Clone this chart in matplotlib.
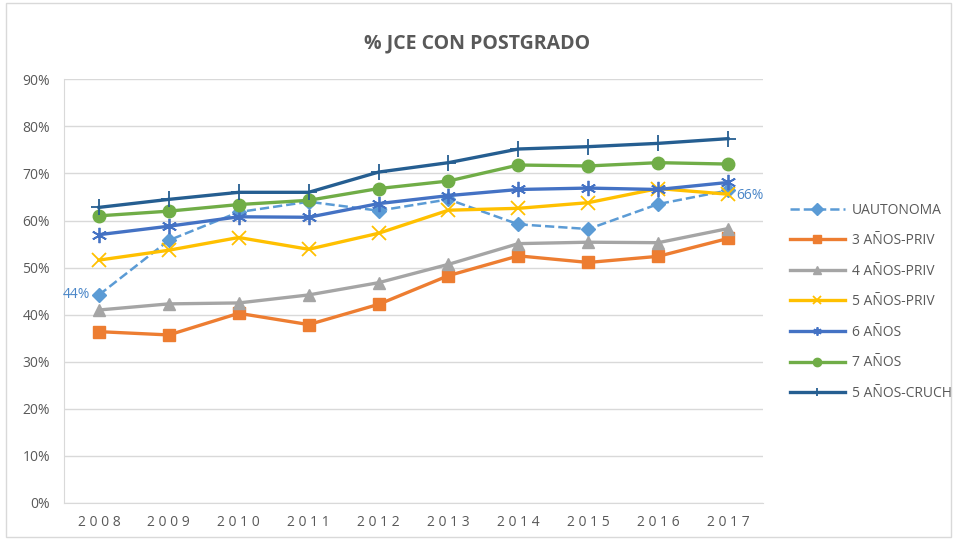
import matplotlib
matplotlib.use("Agg")
import matplotlib.pyplot as plt
from matplotlib.patches import Rectangle
from matplotlib.ticker import FuncFormatter, MultipleLocator

years = [2008, 2009, 2010, 2011, 2012, 2013, 2014, 2015, 2016, 2017]
uautonoma = [44.2, 55.8, 61.8, 64.0, 62.1, 64.5, 59.2, 58.2, 63.5, 66.4]
priv3 = [36.4, 35.7, 40.3, 37.9, 42.2, 48.3, 52.5, 51.1, 52.4, 56.2]
priv4 = [41.0, 42.3, 42.5, 44.2, 46.8, 50.7, 55.1, 55.4, 55.3, 58.3]
priv5 = [51.6, 53.7, 56.4, 53.9, 57.3, 62.2, 62.6, 63.8, 66.8, 65.6]
anos6 = [57.0, 58.8, 60.8, 60.7, 63.6, 65.3, 66.6, 66.9, 66.6, 68.1]
anos7 = [61.0, 62.0, 63.4, 64.3, 66.8, 68.4, 71.8, 71.6, 72.3, 72.0]
cruch5 = [62.8, 64.5, 66.0, 66.0, 70.3, 72.3, 75.2, 75.7, 76.4, 77.4]
series_names = ["UAUTONOMA", "3 AÑOS-PRIV", "4 AÑOS-PRIV", "5 AÑOS-PRIV",
                "6 AÑOS", "7 AÑOS", "5 AÑOS-CRUCH"]
title = "% JCE CON POSTGRADO"

plt.rcParams['font.family'] = ['Open Sans', 'DejaVu Sans']

fig = plt.figure(figsize=(9.55, 5.39), dpi=100)
fig.patches.append(Rectangle((0.006, 0.004), 0.99, 0.99, transform=fig.transFigure,
                             fill=False, edgecolor='#d9d9d9', linewidth=1))
ax = fig.add_axes([0.067, 0.0668, 0.732, 0.786])

x = list(range(len(years)))
styles = [
    (uautonoma, dict(color='#5B9BD5', linestyle='--', linewidth=1.8, marker='D', markersize=7)),
    (priv3, dict(color='#ED7D31', linewidth=2.4, marker='s', markersize=9)),
    (priv4, dict(color='#A5A5A5', linewidth=2.4, marker='^', markersize=9)),
    (priv5, dict(color='#FFC000', linewidth=2.4, marker='x', markersize=10, markeredgewidth=1.3)),
    (anos6, dict(color='#4472C4', linewidth=2.4, marker=(6, 2, 0), markersize=11, markeredgewidth=1.3)),
    (anos7, dict(color='#70AD47', linewidth=2.4, marker='o', markersize=9)),
    (cruch5, dict(color='#255E91', linewidth=2.4, marker='+', markersize=11, markeredgewidth=1.3)),
]
for (vals, kw), name in zip(styles, series_names):
    ax.plot(x, vals, label=name, zorder=3, **kw)

ax.annotate(f"{uautonoma[0]:.0f}%", (x[0], uautonoma[0]), xytext=(-6, 0),
            textcoords='offset points', ha='right', va='center', color='#4A86C8', fontsize=10)
ax.annotate(f"{uautonoma[-1]:.0f}%", (x[-1], uautonoma[-1]), xytext=(6, -4),
            textcoords='offset points', ha='left', va='center', color='#4A86C8', fontsize=10)

ax.set_ylim(0, 90)
ax.set_xlim(-0.5, len(years) - 0.5)
ax.yaxis.set_major_locator(MultipleLocator(10))
ax.yaxis.set_major_formatter(FuncFormatter(lambda v, p: f"{v:.0f}%"))
ax.set_xticks(x)
ax.set_xticklabels([" ".join(str(y)) for y in years])
ax.grid(axis='y', color='#d9d9d9', linewidth=1)
ax.set_axisbelow(True)
for s in ['top', 'right']:
    ax.spines[s].set_visible(False)
ax.spines['left'].set_color('#d9d9d9')
ax.spines['bottom'].set_color('#d9d9d9')
ax.tick_params(axis='both', length=0, colors='#595959', labelsize=10)
ax.tick_params(axis='x', pad=9)
ax.tick_params(axis='y', pad=10)

fig.text(0.5, 0.92, title, ha='center', va='center', fontsize=14,
         fontweight='bold', color='#595959')

leg = ax.legend(loc='center left', bbox_to_anchor=(1.02, 0.475), frameon=False,
                fontsize=10, labelspacing=1.12, handlelength=4.0, handletextpad=0.5,
                labelcolor='#595959')
for h in leg.legend_handles:
    h.set_markersize(6)

fig.savefig("out.png", dpi=100)
